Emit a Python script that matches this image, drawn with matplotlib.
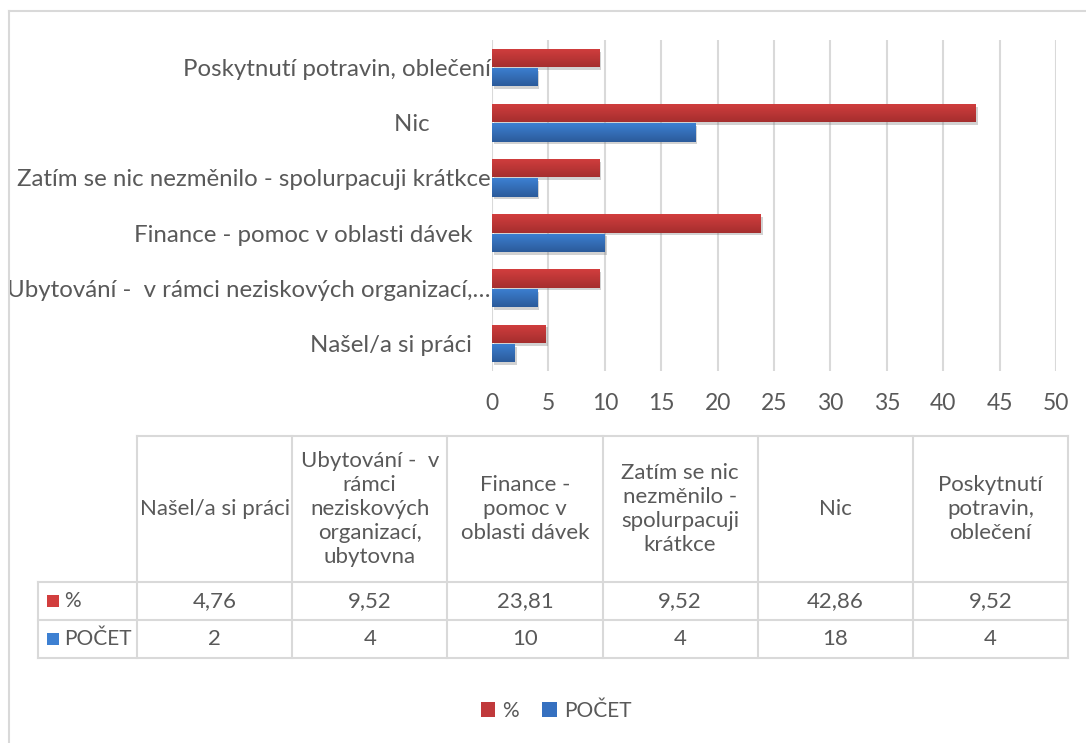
import numpy as np
import matplotlib
matplotlib.use("Agg")
import matplotlib.pyplot as plt
from matplotlib.patches import Rectangle, Patch
from matplotlib.lines import Line2D
import matplotlib.patheffects as pe

# ---------------- data ----------------
categories = ["Našel/a si práci",
              "Ubytování -  v rámci neziskových organizací, ubytovna",
              "Finance - pomoc v oblasti dávek",
              "Zatím se nic nezměnilo - spolurpacuji krátkce",
              "Nic",
              "Poskytnutí potravin, oblečení"]
axis_labels = ["Našel/a si práci   ",
               "Ubytování -  v rámci neziskových organizací,…",
               "Finance - pomoc v oblasti dávek   ",
               "Zatím se nic nezměnilo - spolurpacuji krátkce",
               "Nic          ",
               "Poskytnutí potravin, oblečení"]
header_labels = ["Našel/a si práci",
                 "Ubytování -  v\nrámci\nneziskových\norganizací,\nubytovna",
                 "Finance -\npomoc v\noblasti dávek",
                 "Zatím se nic\nnezměnilo -\nspolurpacuji\nkrátkce",
                 "Nic",
                 "Poskytnutí\npotravin,\noblečení"]
series_names = ["%", "POČET"]
pct = [4.76, 9.52, 23.81, 9.52, 42.86, 9.52]
pct_text = ["4,76", "9,52", "23,81", "9,52", "42,86", "9,52"]
count = [2, 4, 10, 4, 18, 4]
xticks = [0, 5, 10, 15, 20, 25, 30, 35, 40, 45, 50]

# ---------------- style ----------------
W, H = 1086, 743
FONT = "Lato"
TXT = "#595959"
GRID = "#D9D9D9"
RED_TOP, RED_BOT, RED_MID = "#D23E3E", "#A52E2E", "#C0393B"
BLU_TOP, BLU_BOT, BLU_MID = "#3D80D2", "#2B5B9B", "#3570C0"
FS_AX = 17.3
FS_TICK = 16.5
FS_TAB = 16
FS_ROWLAB = 15

plt.rcParams['font.family'] = [FONT, 'DejaVu Sans']

fig = plt.figure(figsize=(W / 100, H / 100), dpi=100)
fig.patch.set_facecolor("white")


def fx(px):
    return px / W


def fy(py):
    return 1 - py / H


# outer chart border (top + left visible)
fig.add_artist(Line2D([fx(9), fx(W)], [fy(11), fy(11)], color=GRID, lw=1.5))
fig.add_artist(Line2D([fx(9), fx(9)], [fy(11), fy(H)], color=GRID, lw=1.5))

# ---------------- bar chart ----------------
ax_l, ax_r, ax_t, ax_b = 492, 1056, 40, 371
ax = fig.add_axes([fx(ax_l), fy(ax_b), fx(ax_r) - fx(ax_l), fy(ax_t) - fy(ax_b)])
ax.set_facecolor("none")

y = np.arange(len(categories))
bh = 0.33
off = 0.175
shadow = [pe.SimplePatchShadow(offset=(1.5, -2), shadow_rgbFace="#808080", alpha=0.35), pe.Normal()]
bars_p = ax.barh(y + off, pct, height=bh, color=RED_MID, zorder=3, path_effects=shadow)
bars_c = ax.barh(y - off, count, height=bh, color=BLU_MID, zorder=3, path_effects=shadow)


def grad(bars, top, bot):
    c_top = np.array(matplotlib.colors.to_rgb(top))
    c_bot = np.array(matplotlib.colors.to_rgb(bot))
    t = np.linspace(0, 1, 64)[:, None]
    img = (c_bot * (1 - t) + c_top * t)[:, None, :]
    for p in bars:
        x0, y0, w, h = p.get_x(), p.get_y(), p.get_width(), p.get_height()
        im = ax.imshow(img, extent=[x0, x0 + w, y0, y0 + h], origin="lower",
                       aspect="auto", zorder=4, interpolation="bilinear")
        im.set_clip_path(p)


grad(bars_p, RED_TOP, RED_BOT)
grad(bars_c, BLU_TOP, BLU_BOT)

ax.set_xlim(0, 50)
ax.set_ylim(-0.5, len(categories) - 0.5)
ax.set_xticks(xticks)
ax.set_xticklabels([str(v) for v in xticks], fontsize=FS_TICK, color=TXT)
ax.set_yticks(y)
ax.set_yticklabels(axis_labels, fontsize=FS_AX, color=TXT)
ax.tick_params(axis="x", length=0, pad=16)
ax.tick_params(axis="y", length=0, pad=1)
ax.grid(axis="x", color=GRID, lw=1.5, zorder=0)
ax.set_axisbelow(True)
for s in ax.spines.values():
    s.set_visible(False)

# ---------------- data table ----------------
col_x = list(np.linspace(137, 1068, len(categories) + 1))
lab_l = 38
row_y = [436, 582, 620, 658]
lw_t = 1.5


def hline(x0, x1, yy):
    fig.add_artist(Line2D([fx(x0), fx(x1)], [fy(yy), fy(yy)], color=GRID, lw=lw_t))


def vline(xx, y0, y1):
    fig.add_artist(Line2D([fx(xx), fx(xx)], [fy(y0), fy(y1)], color=GRID, lw=lw_t))


hline(col_x[0], col_x[-1], row_y[0])
for yy in row_y[1:]:
    hline(lab_l, col_x[-1], yy)
vline(lab_l, row_y[1], row_y[3])
for xx in col_x:
    vline(xx, row_y[0], row_y[3])

for i, lab in enumerate(header_labels):
    cx = (col_x[i] + col_x[i + 1]) / 2
    cy = (row_y[0] + row_y[1]) / 2
    fig.text(fx(cx), fy(cy), lab, ha="center", va="center", fontsize=FS_TAB,
             color=TXT, linespacing=1.25)

rows = [pct_text, [str(v) for v in count]]
row_cols = [(RED_TOP, RED_BOT), (BLU_TOP, BLU_BOT)]
for r, vals in enumerate(rows):
    cy = (row_y[r + 1] + row_y[r + 2]) / 2
    for i, v in enumerate(vals):
        cx = (col_x[i] + col_x[i + 1]) / 2
        fig.text(fx(cx), fy(cy), v, ha="center", va="center", fontsize=FS_TAB, color=TXT)
    fig.add_artist(Rectangle((fx(47), fy(cy + 6)), fx(12), fx(12) * W / H,
                             facecolor=row_cols[r][0], edgecolor="none"))
    fig.text(fx(64), fy(cy), series_names[r], ha="left", va="center", fontsize=FS_ROWLAB, color=TXT)

# ---------------- legend ----------------
handles = [Patch(facecolor=RED_MID, edgecolor="none"), Patch(facecolor=BLU_MID, edgecolor="none")]
leg = fig.legend(handles, series_names, loc="center", bbox_to_anchor=(fx(556), fy(711)),
                 ncol=2, frameon=False, fontsize=15, handlelength=0.7, handleheight=0.7,
                 handletextpad=0.35, columnspacing=1.1, labelcolor=TXT)

fig.savefig("out.png", dpi=100, facecolor="white")
